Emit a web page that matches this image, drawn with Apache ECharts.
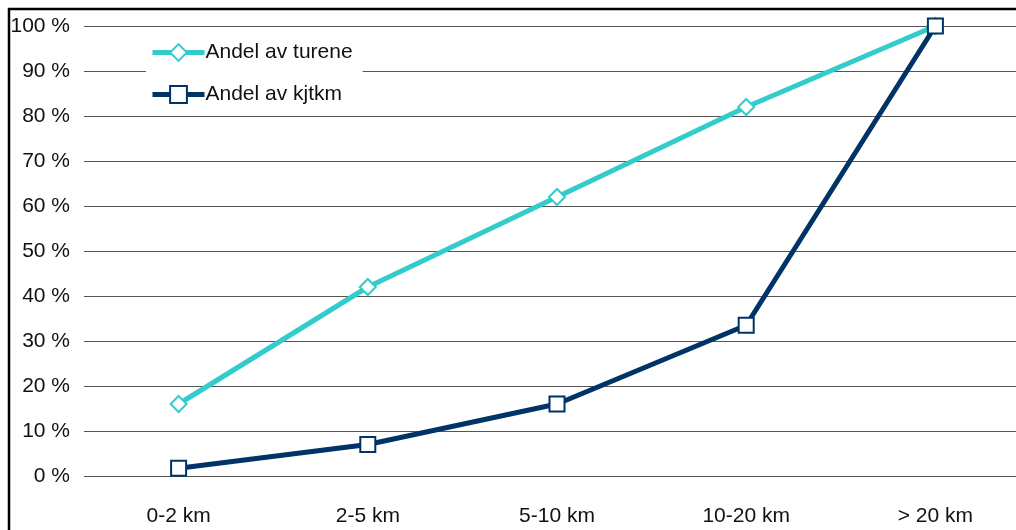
<!DOCTYPE html>
<html><head><meta charset="utf-8">
<script src="https://cdn.jsdelivr.net/npm/echarts@6/dist/echarts.min.js"></script>
<style>html,body{margin:0;padding:0;background:#fff;overflow:hidden}#c{width:1040px;height:530px}</style>
</head><body><div id="c"></div>
<script>
var categories = ['0-2 km', '2-5 km', '5-10 km', '10-20 km', '> 20 km'];
var andelTurene = [16, 42, 62, 82, 100];
var andelKjtkm = [1.7, 7, 16, 33.5, 100];
var yTicks = [0, 10, 20, 30, 40, 50, 60, 70, 80, 90, 100];
var FONT = '"Liberation Sans", Arial, sans-serif';
var chart = echarts.init(document.getElementById('c'));
chart.setOption({
  animation: false,
  backgroundColor: '#fff',
  graphic: [{type: 'rect', shape: {x: 9, y: 9, width: 1100, height: 560}, style: {fill: 'none', stroke: '#000', lineWidth: 2.5}, z: 100}],
  grid: {left: 84, top: 26, width: 946, height: 450, outerBoundsMode: 'none'},
  legend: {
    orient: 'vertical', left: 146, top: 36, itemGap: 21, itemWidth: 52, itemHeight: 21,
    backgroundColor: '#fff', padding: [6, 10, 6, 4],
    lineStyle: {width: 5},
    textStyle: {fontFamily: FONT, fontSize: 21, color: '#111', padding: [0,0,0,-4]},
    data: ['Andel av turene', 'Andel av kjtkm'], z: 5
  },
  xAxis: {
    type: 'category', data: categories, boundaryGap: true,
    axisLine: {show: false}, axisTick: {show: false},
    axisLabel: {fontFamily: FONT, fontSize: 21, color: '#111', margin: 30}
  },
  yAxis: {
    type: 'value', min: 0, max: 100, interval: 10,
    axisLine: {show: false}, axisTick: {show: false},
    splitLine: {lineStyle: {color: '#555', width: 1}},
    axisLabel: {fontFamily: FONT, fontSize: 21, color: '#111', margin: 14,
      formatter: function (v) { return yTicks.indexOf(v) >= 0 ? v + ' %' : ''; }}
  },
  series: [
    {name: 'Andel av turene', type: 'line', data: andelTurene, symbol: 'diamond', symbolSize: 16,
     lineStyle: {color: '#33CCCC', width: 5}, itemStyle: {color: '#fff', borderColor: '#33CCCC', borderWidth: 2},
     color: '#33CCCC'},
    {name: 'Andel av kjtkm', type: 'line', data: andelKjtkm, symbol: 'rect', symbolSize: 15,
     lineStyle: {color: '#003366', width: 5}, itemStyle: {color: '#fff', borderColor: '#003366', borderWidth: 2},
     color: '#003366'}
  ]
});
</script></body></html>
